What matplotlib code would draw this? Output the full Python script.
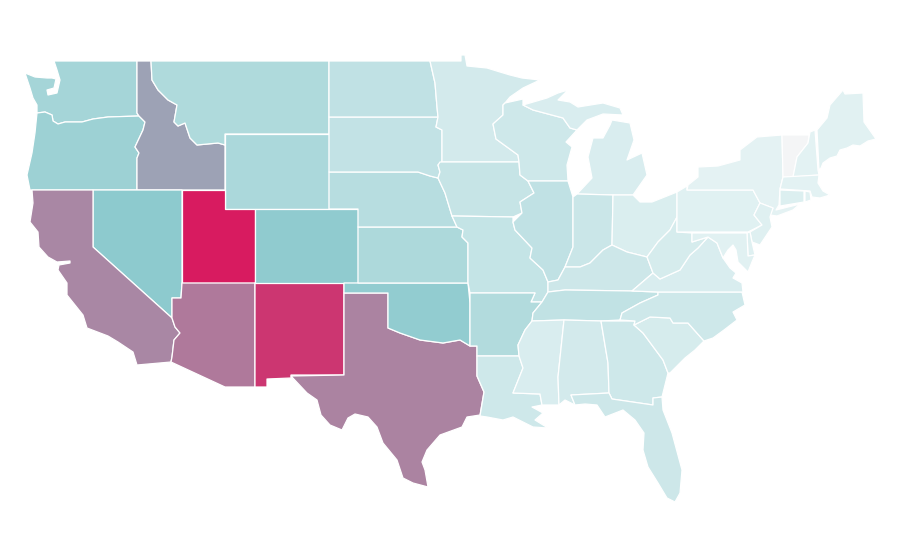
import matplotlib
matplotlib.use('Agg')
import matplotlib.pyplot as plt
from matplotlib.collections import PolyCollection
from matplotlib.colors import LinearSegmentedColormap

# no geodata offline, so outlines are traced by hand in map units
outlines = {
    'WA': [(54,61),(137,61),(137,113),(139,116),(108,117),(93,119),(82,122),(65,122),(58,124),(53,121),(52,115),(45,112),(37,113),(37,105),(33,98),(30,88),(25,73),(35,77),(47,78),(52,78),(56,79),(54,88),(47,90),(48,95),(57,93),(60,80),(57,70)],
    'OR': [(37,113),(45,112),(52,115),(53,121),(58,124),(65,122),(82,122),(93,119),(108,117),(139,116),(145,122),(143,130),(135,147),(139,153),(137,158),(137,190),(30,190),(27,175),(32,153),(35,133)],
    'ID': [(137,61),(151,61),(152,80),(158,90),(168,100),(177,105),(174,122),(178,126),(185,123),(190,138),(197,145),(218,143),(225,145),(225,190),(137,190),(137,158),(139,153),(135,147),(143,130),(145,122),(139,116),(137,113)],
    'MT': [(151,61),(329,61),(329,134),(225,134),(225,145),(218,143),(197,145),(190,138),(185,123),(178,126),(174,122),(177,105),(168,100),(158,90),(152,80)],
    'WY': [(225,134),(329,134),(329,209),(225,209)],
    'UT': [(182,190),(225,190),(225,209),(255,209),(255,283),(182,283)],
    'NV': [(93,190),(182,190),(182,283),(181,298),(172,298),(172,318),(93,247)],
    'CA': [(32,190),(93,190),(93,247),(172,318),(175,327),(180,333),(174,340),(172,357),(171,362),(137,365),(133,352),(118,342),(108,336),(87,328),(83,315),(67,295),(67,283),(58,270),(59,265),(70,263),(70,261),(57,262),(48,257),(39,247),(38,232),(30,222),(33,203)],
    'AZ': [(182,283),(255,283),(255,387),(225,387),(171,362),(172,357),(174,340),(180,333),(175,327),(172,318),(172,298),(181,298)],
    'NM': [(255,283),(344,283),(344,375),(291,375),(291,378),(267,379),(267,387),(255,387)],
    'CO': [(255,209),(358,209),(358,283),(255,283)],
    'TX': [(344,293),(388,293),(388,328),(400,333),(420,340),(443,343),(460,340),(470,346),(477,346),(477,376),(484,392),(480,415),(467,417),(462,427),(440,435),(427,450),(422,462),(425,470),(428,487),(413,483),(403,478),(397,460),(383,443),(377,427),(368,417),(355,414),(348,418),(342,430),(330,425),(321,415),(317,400),(307,393),(291,376),(344,375)],
    'OK': [(344,283),(468,283),(470,303),(470,346),(460,340),(443,343),(420,340),(400,333),(388,328),(388,293),(344,293)],
    'KS': [(358,227),(457,227),(463,230),(462,237),(468,243),(468,283),(358,283)],
    'NE': [(329,172),(418,172),(430,176),(438,178),(445,193),(452,216),(457,227),(358,227),(358,209),(329,209)],
    'SD': [(329,117),(438,117),(436,127),(442,130),(442,162),(438,165),(440,172),(438,178),(430,176),(418,172),(329,172)],
    'ND': [(329,61),(430,61),(435,83),(437,107),(438,117),(329,117)],
    'MN': [(430,61),(461,61),(461,55),(465,55),(467,66),(487,68),(500,72),(510,75),(522,78),(540,80),(523,88),(510,97),(505,103),(503,105),(503,115),(493,124),(496,139),(507,147),(518,155),(519,162),(442,162),(442,130),(436,127),(438,117),(437,107),(435,83)],
    'WI': [(503,105),(505,103),(523,99),(523,105),(533,110),(563,118),(570,128),(577,130),(566,142),(572,147),(567,165),(568,181),(528,181),(520,175),(519,162),(518,155),(507,147),(496,139),(493,124),(503,115)],
    'MI_up': [(523,105),(547,98),(558,93),(568,90),(558,100),(570,102),(578,107),(603,103),(620,108),(623,115),(603,114),(587,120),(577,130),(570,128),(563,118),(533,110)],
    'MI_low': [(612,120),(630,123),(634,140),(627,160),(642,153),(647,175),(633,195),(613,195),(577,194),(592,178),(588,157),(593,138),(603,138),(610,125)],
    'IL': [(528,181),(568,181),(573,197),(573,247),(565,267),(558,280),(548,282),(543,270),(530,258),(532,248),(515,230),(513,222),(522,213),(520,202),(534,193)],
    'IA': [(440,162),(519,162),(520,175),(528,181),(534,193),(520,202),(522,213),(513,217),(452,216),(445,193),(438,178),(440,172),(438,165)],
    'MO': [(452,216),(513,217),(513,222),(515,230),(532,248),(530,258),(543,270),(548,282),(548,292),(542,302),(531,302),(535,293),(470,293),(468,283),(468,243),(462,237),(463,230),(457,227)],
    'AR': [(470,293),(535,293),(531,302),(542,302),(533,313),(532,321),(525,330),(518,345),(519,356),(477,356),(477,346),(470,346),(470,303)],
    'LA': [(477,356),(519,356),(523,368),(513,393),(540,394),(542,405),(532,407),(543,413),(535,420),(548,428),(533,427),(513,417),(503,420),(487,417),(480,416),(484,392),(477,376)],
    'MS': [(532,321),(564,320),(558,377),(559,405),(542,405),(540,394),(513,393),(523,368),(519,356),(518,345),(525,330)],
    'AL': [(564,320),(601,321),(608,363),(609,393),(571,395),(575,405),(565,400),(559,405),(558,377)],
    'GA': [(601,321),(635,321),(634,325),(643,333),(663,360),(668,373),(662,397),(653,398),(653,405),(612,399),(609,393),(608,363)],
    'FL': [(571,395),(609,393),(612,399),(653,405),(653,398),(662,397),(663,410),(672,433),(682,470),(680,493),(675,502),(667,498),(658,483),(648,467),(643,450),(644,433),(635,420),(623,410),(605,417),(597,405),(585,404),(575,405)],
    'SC': [(634,325),(650,317),(670,318),(673,323),(688,323),(704,341),(695,350),(685,358),(670,373),(668,373),(663,360),(643,333)],
    'NC': [(658,292),(742,292),(745,305),(733,312),(737,320),(724,330),(713,338),(704,341),(688,323),(673,323),(670,318),(650,317),(634,325),(635,321),(620,320),(622,313),(640,303),(658,295)],
    'TN': [(548,292),(565,290),(632,291),(658,292),(658,295),(640,303),(622,313),(620,320),(601,321),(564,320),(532,321),(533,313),(542,302)],
    'KY': [(548,282),(558,280),(565,267),(580,267),(590,263),(603,250),(612,245),(627,252),(647,257),(653,273),(632,291),(565,290),(548,292)],
    'IN': [(573,197),(577,194),(613,195),(612,245),(603,250),(590,263),(580,267),(565,267),(573,247)],
    'OH': [(613,195),(633,195),(640,202),(652,202),(677,192),(677,217),(670,230),(658,242),(647,257),(627,252),(612,245)],
    'PA': [(677,192),(687,186),(687,190),(753,190),(760,203),(754,215),(762,225),(748,232),(677,232)],
    'NY': [(687,190),(688,185),(698,177),(698,167),(718,166),(740,160),(740,150),(757,137),(782,135),(783,177),(780,189),(779,205),(776,210),(800,204),(793,210),(777,216),(770,215),(773,208),(760,203),(753,190)],
    'VT': [(782,135),(809,135),(808,143),(797,157),(793,177),(783,177)],
    'NH': [(810,132),(815,130),(818,170),(819,175),(793,177),(797,157),(808,143)],
    'ME': [(817,130),(827,118),(830,105),(843,90),(845,94),(863,93),(864,122),(876,139),(868,141),(860,146),(853,145),(847,148),(840,150),(837,156),(830,158),(823,163),(821,168),(819,170)],
    'MA': [(783,177),(819,175),(818,183),(823,191),(830,195),(820,198),(812,197),(810,191),(780,189)],
    'CT': [(780,190),(804,191),(804,202),(780,206)],
    'RI': [(805,191),(810,192),(811,200),(805,202)],
    'NJ': [(760,203),(773,208),(770,217),(772,227),(760,245),(752,242),(750,232),(762,225),(754,215)],
    'DE': [(747,233),(750,232),(752,242),(755,255),(748,256)],
    'MD': [(692,233),(747,233),(748,256),(755,255),(752,262),(748,272),(738,262),(736,250),(733,245),(728,250),(723,258),(717,243),(708,237),(692,242)],
    'VA': [(653,273),(660,279),(680,270),(690,255),(698,248),(708,237),(717,243),(723,258),(730,268),(736,273),(733,278),(742,283),(743,292),(658,292),(632,291)],
    'WV': [(647,257),(658,242),(670,230),(677,217),(677,232),(692,233),(692,242),(708,237),(698,248),(690,255),(680,270),(660,279),(653,273)],
}

# state shares
west_states = ['WA', 'OR', 'ID', 'MT', 'WY', 'UT', 'NV', 'CA', 'AZ', 'NM', 'CO']
west_values = [0.38, 0.42, 0.61, 0.33, 0.35, 1.00, 0.495, 0.69, 0.73, 0.92, 0.48]
central_states = ['TX', 'OK', 'KS', 'NE', 'SD', 'ND', 'MN', 'IA', 'MO', 'AR', 'LA']
central_values = [0.70, 0.47, 0.34, 0.29, 0.24, 0.25, 0.16, 0.22, 0.23, 0.32, 0.18]
lakes_states = ['WI', 'MI_up', 'MI_low', 'IL', 'IN', 'OH', 'KY', 'TN']
lakes_values = [0.18, 0.13, 0.13, 0.25, 0.20, 0.125, 0.19, 0.245]
south_states = ['MS', 'AL', 'GA', 'FL', 'SC', 'NC', 'VA', 'WV']
south_values = [0.13, 0.16, 0.18, 0.19, 0.145, 0.18, 0.13, 0.145]
east_states = ['PA', 'NY', 'VT', 'NH', 'ME', 'MA', 'CT', 'RI', 'NJ', 'DE', 'MD']
east_values = [0.095, 0.077, 0.0, 0.08, 0.09, 0.08, 0.115, 0.09, 0.10, 0.10, 0.09]

states = west_states + central_states + lakes_states + south_states + east_states
values = west_values + central_values + lakes_values + south_values + east_values

cmap = LinearSegmentedColormap.from_list(
    'share', [(0, '#f4f5f6'), (0.08, '#e3f2f3'), (0.5, '#8cc9cd'), (1, '#d81b60')])

fig = plt.figure(figsize=(9, 5.6), dpi=100)
ax = fig.add_axes([0, 0, 1, 1])
polys = PolyCollection([outlines[s] for s in states], array=values, cmap=cmap,
                       edgecolors='white', linewidths=0.9)
polys.set_clim(0, 1)
ax.add_collection(polys)
ax.set_xlim(0, 900)
ax.set_ylim(560, 0)
ax.axis('off')
fig.savefig('out.png', dpi=100)
plt.close()
